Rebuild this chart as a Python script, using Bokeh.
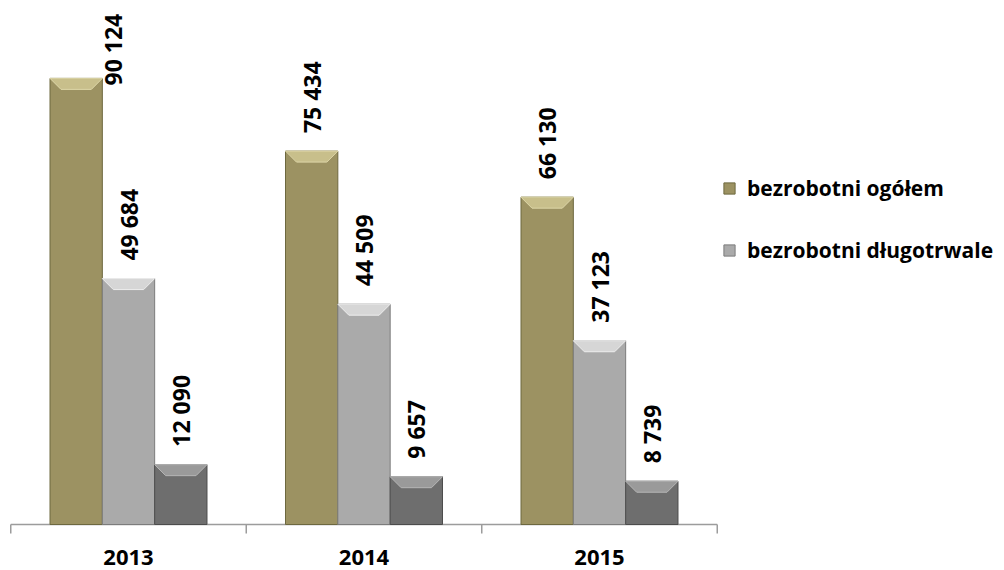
import math
from bokeh.plotting import figure
from bokeh.models import ColumnDataSource, Range1d, Legend, LegendItem
from bokeh.core.properties import value
from bokeh.embed import file_html
from bokeh.resources import INLINE

# ---- data ----
years = ["2013", "2014", "2015"]
ogolem = [90124, 75434, 66130]
dlugotrwale = [49684, 44509, 37123]
trzecia = [12090, 9657, 8739]
series_names = ["bezrobotni ogółem", "bezrobotni długotrwale", None]

W, H = 1004, 570
AX_LEFT = 10.25         # left end of category axis (px)
CAT_PX = 235.5          # width of one category (px)
BASE_Y = 524            # baseline from canvas top (px)
PX_PER_UNIT = 495 / 100000.0

x0 = -AX_LEFT / CAT_PX
x1 = (W - AX_LEFT) / CAT_PX
y0 = -(H - BASE_Y) / PX_PER_UNIT
y1 = BASE_Y / PX_PER_UNIT

p = figure(width=W, height=H, output_backend="svg", toolbar_location=None,
           x_range=Range1d(x0, x1), y_range=Range1d(y0, y1),
           min_border=0, min_border_left=0, min_border_right=0,
           min_border_top=0, min_border_bottom=0)
p.outline_line_color = None
p.xgrid.visible = False
p.ygrid.visible = False
p.xaxis.visible = False
p.yaxis.visible = False
p.background_fill_color = "white"
p.border_fill_color = "white"

FONT = "Open Sans"
font_px = 23

# ---- category axis (line + boundary ticks) ----
ncat = len(years)
axis_color = "#9C9C9C"
p.line(x=[0, ncat], y=[0, 0], line_color=axis_color, line_width=1.5)
tick_len = 9 / PX_PER_UNIT
p.segment(x0=list(range(ncat + 1)), y0=[0] * (ncat + 1),
          x1=list(range(ncat + 1)), y1=[-tick_len] * (ncat + 1),
          line_color=axis_color, line_width=1.5)

styles = [
    dict(fill="#9C9262", top="#C8BF8B", edge="#DDD6A8", line="#6D683F"),
    dict(fill="#AAAAAA", top="#D6D6D6", edge="#EDEDED", line="#7C7C7C"),
    dict(fill="#6E6E6E", top="#9A9A9A", edge="#B5B5B5", line="#4C4C4C"),
]
bw = 0.2222
offsets = [-bw, 0.0, bw]
all_series = [ogolem, dlugotrwale, trzecia]

band_px = 11
band = band_px / PX_PER_UNIT
inset = band_px / CAT_PX

renderers = []
lab_x, lab_y, lab_t, lab_xo, lab_yo = [], [], [], [], []
label_len_px = 70
for j, (vals, st) in enumerate(zip(all_series, styles)):
    xs = [i + 0.5 + offsets[j] for i in range(ncat)]
    src = ColumnDataSource(dict(x=xs, top=vals))
    r = p.vbar(x="x", top="top", width=bw, bottom=0, source=src,
               fill_color=st["fill"], line_color=st["line"], line_width=1)
    renderers.append(r)
    px_list, py_list = [], []
    for x, v in zip(xs, vals):
        l, rr = x - bw / 2, x + bw / 2
        px_list.append([l, rr, rr - inset, l + inset])
        py_list.append([v, v, v - band, v - band])
    p.patches(px_list, py_list, fill_color=st["top"], line_color=st["edge"],
              line_width=1)
    for x, v in zip(xs, vals):
        bar_top_px = BASE_Y - v * PX_PER_UNIT
        lab_x.append(x)
        lab_y.append(v)
        lab_t.append(f"{v:,}".replace(",", " "))
        if bar_top_px - 18 - label_len_px < 12:
            # not enough room above the bar: put it beside, inside the chart
            lab_xo.append(bw * CAT_PX / 2 + 11)
            lab_yo.append((15 + label_len_px) - bar_top_px)
        else:
            lab_xo.append(0)
            lab_yo.append(-18)

lsrc = ColumnDataSource(dict(x=lab_x, y=lab_y, text=lab_t, xo=lab_xo, yo=lab_yo))
p.text(x="x", y="y", text="text", x_offset="xo", y_offset="yo", source=lsrc,
       angle=math.pi / 2, text_align="left", text_baseline="middle",
       text_font=value(FONT), text_font_style="bold",
       text_font_size=f"{font_px}px", text_color="black")

ysrc = ColumnDataSource(dict(x=[i + 0.5 for i in range(ncat)],
                             y=[0] * ncat, text=years))
p.text(x="x", y="y", text="text", source=ysrc, y_offset=33,
       text_align="center", text_baseline="middle",
       text_font=value(FONT), text_font_style="bold",
       text_font_size="22px", text_color="black")

items = [LegendItem(label=n, renderers=[r])
         for n, r in zip(series_names, renderers) if n]
legend = Legend(items=items, location=(722, 306), orientation="vertical",
                glyph_width=14, glyph_height=14, label_standoff=11,
                spacing=34, padding=0, margin=0,
                border_line_alpha=0, background_fill_alpha=0,
                label_text_font=FONT, label_text_font_style="bold",
                label_text_font_size="21px", label_text_color="black")
p.add_layout(legend, "center")

open("out.html", "w").write(file_html(p, INLINE))
